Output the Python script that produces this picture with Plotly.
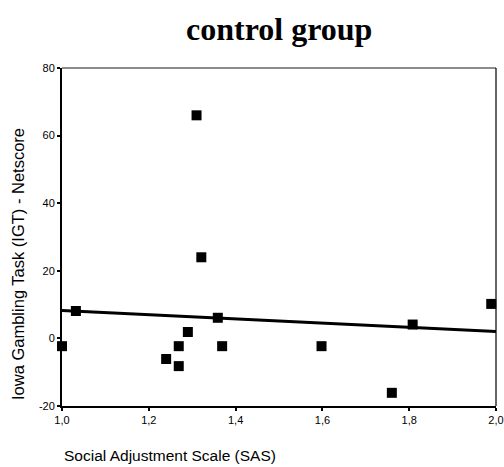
import numpy as np
import plotly.graph_objects as go

# Data
sas = [1.000, 1.032, 1.240, 1.269, 1.269, 1.290, 1.310, 1.321, 1.359, 1.369, 1.598, 1.760, 1.808, 1.989]
igt = [-2.3, 8.1, -6.1, -2.3, -8.2, 1.9, 66.0, 24.0, 6.1, -2.3, -2.3, -16.1, 4.1, 10.2]

x_ticks = [1.0, 1.2, 1.4, 1.6, 1.8, 2.0]
x_labels = ["1,0", "1,2", "1,4", "1,6", "1,8", "2,0"]
y_ticks = [-20, 0, 20, 40, 60, 80]
y_labels = ["-20", "0", "20", "40", "60", "80"]
x_range = [1.0, 2.0]
y_range = [-20, 80]

title_text = "control group"
x_title = "Social Adjustment Scale (SAS)"
y_title = "Iowa Gambling Task (IGT) - Netscore"

# Linear regression line
slope, intercept = np.polyfit(np.array(sas), np.array(igt), 1)
fit_x = np.array(x_range)
fit_y = intercept + slope * fit_x

fig = go.Figure()
fig.add_trace(go.Scatter(
    x=fit_x, y=fit_y, mode="lines",
    line=dict(color="black", width=3), hoverinfo="skip", showlegend=False,
))
fig.add_trace(go.Scatter(
    x=sas, y=igt, mode="markers",
    marker=dict(symbol="square", size=10, color="black"),
    showlegend=False, cliponaxis=False,
))

fig.update_layout(
    width=504, height=467,
    margin=dict(l=62, r=8, t=68, b=61, autoexpand=False),
    paper_bgcolor="white", plot_bgcolor="white",
    font=dict(family="Liberation Sans, Arial, sans-serif", size=11, color="black"),
    showlegend=False,
)
fig.update_xaxes(
    range=x_range, tickvals=x_ticks, ticktext=x_labels,
    showgrid=False, zeroline=False,
    showline=True, linecolor="black", linewidth=2,
    ticks="outside", ticklen=3, tickwidth=2, tickcolor="black",
    tickfont=dict(size=11), fixedrange=True,
)
fig.update_yaxes(
    range=y_range, tickvals=y_ticks, ticktext=y_labels,
    showgrid=False, zeroline=False,
    showline=True, linecolor="black", linewidth=2,
    ticks="outside", ticklen=3, tickwidth=2, tickcolor="black",
    tickfont=dict(size=11), fixedrange=True,
)

# top (grey) and right borders
fig.add_shape(type="line", xref="paper", yref="paper", x0=0, x1=1, y0=1, y1=1,
              line=dict(color="#666666", width=1.5))
fig.add_shape(type="line", xref="paper", yref="paper", x0=1, x1=1, y0=0, y1=1,
              line=dict(color="black", width=1.2))

fig.add_annotation(
    text=f"<b>{title_text}</b>", xref="paper", yref="paper", x=0.5, y=1,
    yshift=39, showarrow=False,
    font=dict(family="Liberation Serif, Times New Roman, serif", size=32, color="black"),
    yanchor="middle", xanchor="center",
)
fig.add_annotation(
    text=x_title, xref="paper", yref="paper", x=0, y=0, xanchor="left", yanchor="middle",
    yshift=-49, showarrow=False,
    font=dict(family="Liberation Sans, Arial, sans-serif", size=15.5, color="black"),
)
fig.add_annotation(
    text=y_title, xref="paper", yref="paper", x=0, y=0.5, xanchor="center", yanchor="middle",
    xshift=-44, yshift=-27, textangle=-90, showarrow=False,
    font=dict(family="Liberation Sans, Arial, sans-serif", size=16.5, color="black"),
)

fig.write_html(
    "out.html",
    config={"displayModeBar": False, "staticPlot": True},
    post_script="document.body.style.margin='0';document.body.style.overflow='hidden';",
)
